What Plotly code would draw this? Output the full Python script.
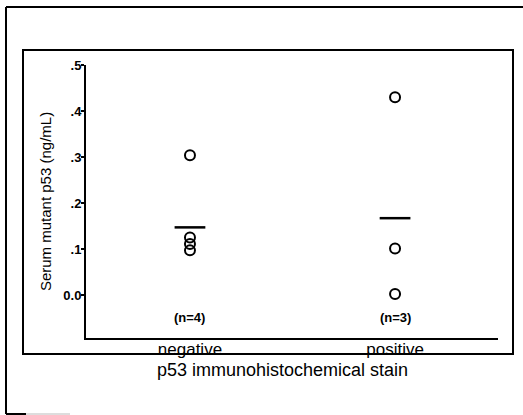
import plotly.graph_objects as go

# ---- data ----
categories = ["negative", "positive"]
negative_vals = [0.304, 0.125, 0.111, 0.097]
positive_vals = [0.430, 0.101, 0.002]
group_means = [0.147, 0.167]
y_tickvals = [0.0, 0.1, 0.2, 0.3, 0.4, 0.5]
y_ticktext = ["0.0", ".1", ".2", ".3", ".4", ".5"]

W, H = 523, 415
L, R, T, B = 86, 25, 65, 77
pw, ph = W - L - R, H - T - B

def px(xpix):
    return (xpix - L) / pw

def py(ypix):
    return (H - B - ypix) / ph

FONT = "Liberation Sans, Arial, sans-serif"
groups = [negative_vals, positive_vals]

fig = go.Figure()
for i, vals in enumerate(groups):
    fig.add_trace(go.Scatter(
        x=[i] * len(vals), y=vals, mode="markers",
        marker=dict(symbol="circle-open", size=10, color="black",
                    line=dict(width=2, color="black")),
        showlegend=False, hoverinfo="y"))
    fig.add_trace(go.Scatter(
        x=[i - 0.075, i + 0.075], y=[group_means[i]] * 2, mode="lines",
        line=dict(color="black", width=2.5), showlegend=False, hoverinfo="skip"))
    fig.add_annotation(x=i, y=-0.05, text=f"<b>(n={len(vals)})</b>", showarrow=False,
                       font=dict(family=FONT, size=13, color="black"))

def seg(x0, y0, x1, y1, w=2, c="black"):
    return dict(type="line", xref="paper", yref="paper", x0=px(x0), x1=px(x1),
                y0=py(y0), y1=py(y1), line=dict(color=c, width=w))

shapes = [
    # outer frame (open on the right)
    seg(6, 7, 523, 7),
    seg(6, 7, 6, 414),
    seg(6, 414, 26, 414),
    seg(26, 414, 70, 414, w=1, c="#bbbbbb"),
    # inner box
    dict(type="rect", xref="paper", yref="paper", x0=px(23), x1=px(513), y0=py(354), y1=py(50),
         line=dict(color="black", width=2)),
]

fig.add_annotation(xref="paper", yref="paper", x=px(282), y=py(370), yanchor="middle",
                   xanchor="center",
                   text="p53 immunohistochemical stain", showarrow=False,
                   font=dict(family=FONT, size=18, color="black"))

fig.update_layout(
    width=W, height=H,
    margin=dict(l=L, r=R, t=T, b=B),
    paper_bgcolor="white", plot_bgcolor="white",
    shapes=shapes,
    xaxis=dict(range=[-0.507, 1.502], tickvals=[0, 1], ticktext=categories,
               showline=True, linecolor="black", linewidth=2, showgrid=False,
               zeroline=False, ticks="", fixedrange=True, ticklabelstandoff=-5,
               tickfont=dict(family=FONT, size=17, color="black")),
    yaxis=dict(range=[-0.0935, 0.5], tickvals=y_tickvals, ticktext=y_ticktext,
               showline=True, linecolor="black", linewidth=2, showgrid=False,
               zeroline=False, ticks="outside", ticklen=3, tickwidth=2, tickcolor="black",
               ticklabelstandoff=-3,
               tickfont=dict(family=FONT, size=13, color="black", weight="bold"),
               title=dict(text="Serum mutant p53 (ng/mL)", standoff=8,
                          font=dict(family=FONT, size=15, color="black"))),
)

fig.write_html("out.html", config={"displayModeBar": False},
               post_script=("document.body.style.margin='0';"
                            "document.body.style.overflow='hidden';"
                            "document.documentElement.style.overflow='hidden';"))
